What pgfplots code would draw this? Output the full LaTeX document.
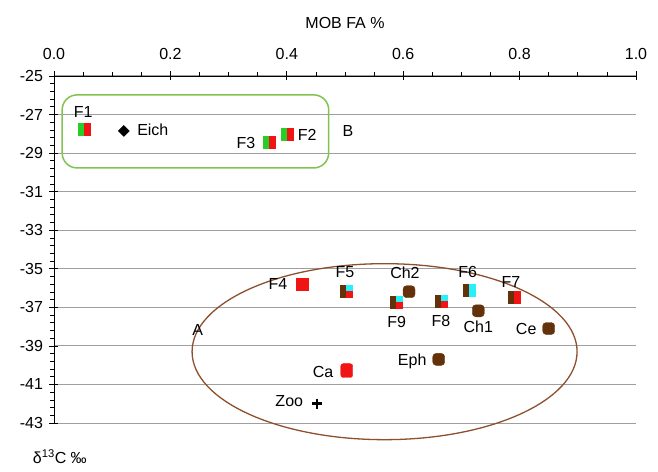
\documentclass[border=0pt]{standalone}
\usepackage{fontspec}
\setmainfont{Liberation Sans}
\usepackage{pgfplots}
\pgfplotsset{compat=1.18}

\definecolor{cgreen}{RGB}{40,205,40}
\definecolor{cred}{RGB}{240,20,20}
\definecolor{cbrown}{RGB}{100,50,10}
\definecolor{ccyan}{RGB}{40,240,250}
\definecolor{boxgreen}{RGB}{130,195,80}
\definecolor{ellbrown}{RGB}{140,80,45}

% split squares: left half / right half
\pgfdeclareplotmark{gr}{%
  \fill[cgreen] (-\pgfplotmarksize,-\pgfplotmarksize) rectangle (0pt,\pgfplotmarksize);
  \fill[cred] (0pt,-\pgfplotmarksize) rectangle (\pgfplotmarksize,\pgfplotmarksize);}
\pgfdeclareplotmark{br}{%
  \fill[cbrown] (-\pgfplotmarksize,-\pgfplotmarksize) rectangle (0pt,\pgfplotmarksize);
  \fill[cred] (0pt,-\pgfplotmarksize) rectangle (\pgfplotmarksize,\pgfplotmarksize);}
\pgfdeclareplotmark{bc}{%
  \fill[cbrown] (-\pgfplotmarksize,-\pgfplotmarksize) rectangle (0pt,\pgfplotmarksize);
  \fill[ccyan] (0pt,-\pgfplotmarksize) rectangle (\pgfplotmarksize,\pgfplotmarksize);}
\pgfdeclareplotmark{bcr}{%
  \fill[cbrown] (-\pgfplotmarksize,-\pgfplotmarksize) rectangle (0pt,\pgfplotmarksize);
  \fill[ccyan] (0pt,0pt) rectangle (\pgfplotmarksize,\pgfplotmarksize);
  \fill[cred] (0pt,-\pgfplotmarksize) rectangle (\pgfplotmarksize,0pt);}
\pgfdeclareplotmark{rsq}{%
  \fill[cred] (-\pgfplotmarksize,-\pgfplotmarksize) rectangle (\pgfplotmarksize,\pgfplotmarksize);}
\pgfdeclareplotmark{rrnd}{%
  \fill[cred, rounded corners=2.5pt] (-\pgfplotmarksize,-1.15\pgfplotmarksize) rectangle (\pgfplotmarksize,1.15\pgfplotmarksize);}
\pgfdeclareplotmark{bdot}{%
  \fill[cbrown, rounded corners=3.5pt] (-\pgfplotmarksize,-\pgfplotmarksize) rectangle (\pgfplotmarksize,\pgfplotmarksize);}
\pgfdeclareplotmark{dia}{%
  \fill[black] (0pt,\pgfplotmarksize) -- (\pgfplotmarksize,0pt) -- (0pt,-\pgfplotmarksize) -- (-\pgfplotmarksize,0pt) -- cycle;}

\begin{document}
\begin{tikzpicture}[font=\fontsize{16}{19}\selectfont]
\path[use as bounding box] (-54pt,-48pt) rectangle (604pt,423pt);
\begin{axis}[
    at={(0,0)}, anchor=south west,
    scale only axis, width=582pt, height=347pt,
    xmin=0, xmax=1, ymin=-43, ymax=-25,
    axis x line*=top, axis y line*=left,
    axis line style={black, line width=0.8pt},
    xtick={0,0.2,0.4,0.6,0.8,1},
    ytick={-43,-41,-39,-37,-35,-33,-31,-29,-27,-25},
    minor x tick num=3, minor y tick num=4,
    tick align=outside, major tick length=4.5pt, minor tick length=4pt,
    tick style={black, line width=0.7pt},
    extra x ticks={0,0.2,0.4,0.6,0.8,1},
    extra y ticks={-43,-41,-39,-37,-35,-33,-31,-29,-27,-25},
    extra x tick labels={}, extra y tick labels={},
    extra tick style={tick align=inside, major tick length=4.5pt, grid=none},
    ymajorgrids,
    major grid style={gray!75, line width=1pt},
    /pgf/number format/assume math mode=true,
    xticklabel style={/pgf/number format/fixed, /pgf/number format/fixed zerofill,
      /pgf/number format/precision=1, font=\fontsize{16}{19}\selectfont, yshift=8pt},
    yticklabel style={font=\fontsize{16}{19}\selectfont, xshift=-3pt},
    xlabel={MOB FA \%},
    xlabel style={font=\fontsize{16}{19}\selectfont, yshift=9pt},
    clip=false,
]
% F1-F3
\addplot[only marks, mark=gr, mark size=6pt] coordinates {(0.052,-27.75) (0.40,-28.0) (0.369,-28.42)};
% Eich
\addplot[only marks, mark=dia, mark size=5.5pt] coordinates {(0.12,-27.85)};
% F4
\addplot[only marks, mark=rsq, mark size=6pt] coordinates {(0.426,-35.78)};
% F5, F8, F9
\addplot[only marks, mark=bcr, mark size=6pt] coordinates {(0.502,-36.14) (0.665,-36.66) (0.588,-36.71)};
% F6
\addplot[only marks, mark=bc, mark size=6pt] coordinates {(0.713,-36.09)};
% F7
\addplot[only marks, mark=br, mark size=6pt] coordinates {(0.79,-36.5)};
% Ch1, Ch2, Ce, Eph
\addplot[only marks, mark=bdot, mark size=6pt] coordinates {(0.729,-37.18) (0.61,-36.19) (0.85,-38.1) (0.661,-39.7)};
% Ca
\addplot[only marks, mark=rrnd, mark size=6pt] coordinates {(0.503,-40.28)};
% Zoo
\addplot[only marks, mark=+, mark size=5pt, line width=2.5pt, black] coordinates {(0.452,-42.0)};

\draw[boxgreen, line width=1.5pt, rounded corners=15pt]
  (axis cs:0.014,-25.98) rectangle (axis cs:0.472,-29.77);
\draw[ellbrown, line width=1.3pt] (axis cs:0.568,-39.3) ellipse [x radius=192.5pt, y radius=88pt];

\node at (axis cs:0.05,-26.87) {F1};
\node[anchor=west] at (axis cs:0.137,-27.8) {Eich};
\node[anchor=east] at (axis cs:0.352,-28.45) {F3};
\node[anchor=west] at (axis cs:0.413,-28.05) {F2};
\node at (axis cs:0.505,-27.85) {B};
\node[anchor=east] at (axis cs:0.407,-35.8) {F4};
\node at (axis cs:0.5,-35.16) {F5};
\node at (axis cs:0.603,-35.2) {Ch2};
\node at (axis cs:0.711,-35.16) {F6};
\node at (axis cs:0.785,-35.67) {F7};
\node at (axis cs:0.589,-37.75) {F9};
\node at (axis cs:0.665,-37.7) {F8};
\node at (axis cs:0.729,-38.0) {Ch1};
\node[anchor=east] at (axis cs:0.835,-38.14) {Ce};
\node[anchor=east] at (axis cs:0.646,-39.8) {Eph};
\node[anchor=east] at (axis cs:0.486,-40.34) {Ca};
\node[anchor=east] at (axis cs:0.434,-41.84) {Zoo};
\node at (axis cs:0.247,-38.16) {A};
\node at (axis cs:0.01,-44.75) {δ\textsuperscript{13}C ‰};
\end{axis}
\end{tikzpicture}
\end{document}
